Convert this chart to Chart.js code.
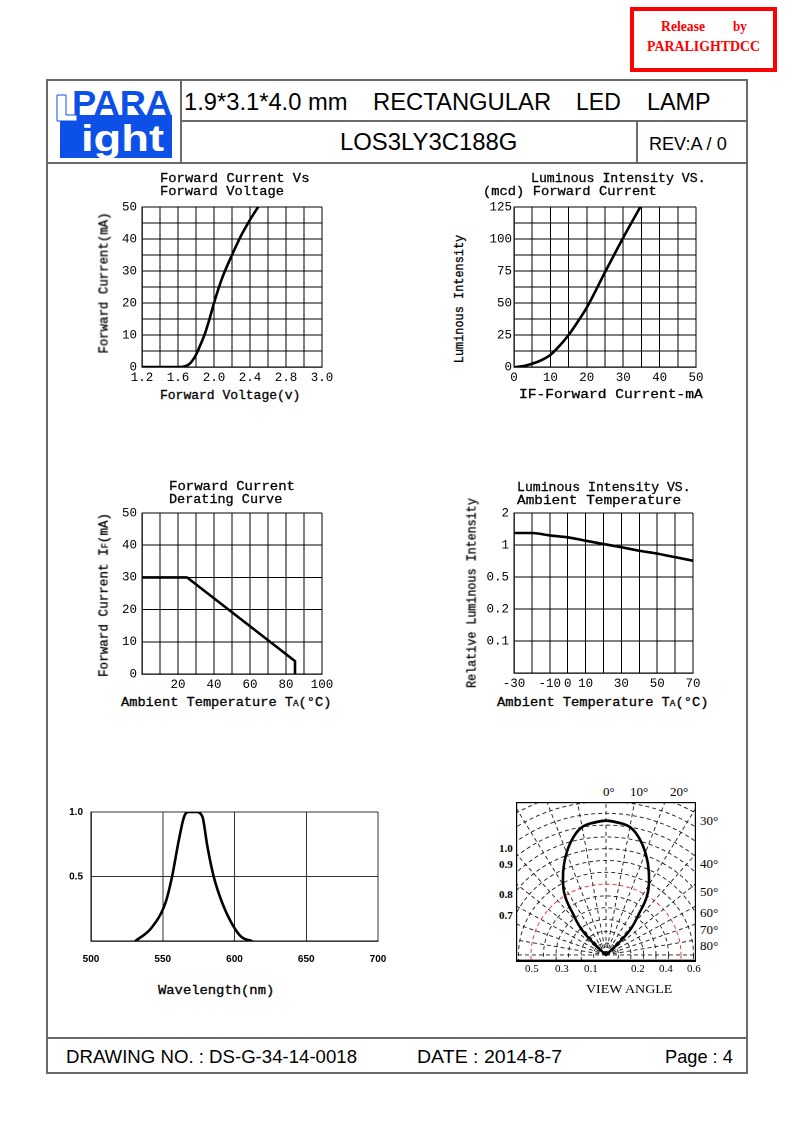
<!DOCTYPE html>
<html>
<head>
<meta charset="utf-8">
<script src="https://cdn.jsdelivr.net/npm/chart.js@4.4.1/dist/chart.umd.min.js"></script>
<style>
html, body { margin: 0; padding: 0; background: #fff; }
#page { position: relative; width: 793px; height: 1123px; overflow: hidden; background: #fff; }
.ln { position: absolute; background: #6a6a6a; }
.t { position: absolute; white-space: nowrap; line-height: 1; color: #000; }
.mono { font-family: "Liberation Mono", "DejaVu Sans Mono", monospace; -webkit-text-stroke: 0.3px #000; }
.sans { font-family: "Liberation Sans", Arial, sans-serif; }
.serif { font-family: "Liberation Serif", "Times New Roman", serif; }
.red { color: #ff0000; font-weight: bold; }
.sub { font-size: 68%; }
canvas { position: absolute; }
</style>
</head>
<body>
<div id="page"></div>
<script>
// ==================== DATA ====================

// Forward Current Vs Forward Voltage
const fvVoltage = [1.2, 1.6, 1.66, 1.72, 1.76, 1.80, 1.85, 1.90, 1.95, 2.0, 2.05, 2.1, 2.2, 2.3, 2.4, 2.49];
const fvCurrent = [0, 0, 0.1, 0.8, 2, 3.8, 7, 10.5, 15, 20, 24.5, 28.5, 35, 41, 46, 50];
const fvTickValues = [1.2, 1.6, 2.0, 2.4, 2.8, 3.2];
const fvTickLabels = ['1.2', '1.6', '2.0', '2.4', '2.8', '3.0'];
const fvCurrentTicks = [0, 10, 20, 30, 40, 50];

// Luminous Intensity VS. Forward Current
const liCurrent = [0.5, 3, 6, 8, 10, 12, 15, 18, 20, 25, 30, 34.7];
const liIntensity = [0, 1, 3.5, 6, 9.5, 15, 25, 37.5, 46.5, 74, 101, 125];
const liCurrentTicks = [0, 10, 20, 30, 40, 50];
const liIntensityTicks = [0, 25, 50, 75, 100, 125];

// Forward Current Derating Curve
const drTemp = [0, 25, 85, 85];
const drCurrent = [30, 30, 4, 0];
const drTempTicks = [20, 40, 60, 80, 100];
const drCurrentTicks = [0, 10, 20, 30, 40, 50];

// Luminous Intensity VS. Ambient Temperature (rows 0.1 / 0.2 / 0.5 / 1 / 2 are equally spaced)
const atTemp = [-30, -20, -10, 0, 10, 20, 30, 40, 50, 60, 70];
const atRelIntensity = [1.375, 1.375, 1.30, 1.24, 1.135, 1.03, 0.965, 0.91, 0.865, 0.81, 0.755];
const atRowValues = [0.1, 0.2, 0.5, 1, 2];
const atRowLabels = ['0.1', '0.2', '0.5', '1', '2'];
const atTempTicks = [-30, -10, 0, 10, 30, 50, 70];

// Spectral distribution
const spWavelength = [531, 542, 552, 556.5, 561, 564.5, 566.5, 568, 574, 576, 578, 581, 585.5, 592, 600, 605, 612];
const spRelative = [0, 0.1, 0.3, 0.5, 0.77, 0.95, 0.995, 1.0, 1.0, 0.99, 0.95, 0.74, 0.5, 0.28, 0.1, 0.03, 0];
const spWaveTicks = [500, 550, 600, 650, 700];
const spRelTicks = [0.5, 1.0];
const spRelLabels = ['0.5', '1.0'];

// Radiation pattern (angle from axis in degrees, radius in grid rings of 0.1)
const patternAngle = [0, 6.1, 9.7, 13.1, 18.0, 23.3, 28.4, 33.4, 37.0, 42.2, 45.8, 47];
const patternRadius = [1.138, 1.122, 1.103, 1.059, 0.965, 0.846, 0.724, 0.594, 0.442, 0.288, 0.100, 0];
const ringValues = [0.1, 0.2, 0.3, 0.4, 0.5, 0.6, 0.7, 0.8, 0.9, 1.0, 1.1, 1.2, 1.3, 1.4, 1.5, 1.6];
const halfRing = 0.6;
const radialAngles = [-90, -80, -70, -60, -50, -40, -30, -20, -10, 0, 10, 20, 30, 40, 50, 60, 70, 80, 90];
const viewTopLabels = ['0°', '10°', '20°'];
const viewRightLabels = ['30°', '40°', '50°', '60°', '70°', '80°'];
const viewLeftLabels = ['1.0', '0.9', '0.8', '0.7'];
const viewBottomLabels = ['0.5', '0.3', '0.1', '0.2', '0.4', '0.6'];

// ==================== PAGE ====================

const page = document.getElementById('page');

function line(x, y, w, h) {
    const d = document.createElement('div');
    d.className = 'ln';
    Object.assign(d.style, { left: x + 'px', top: y + 'px', width: w + 'px', height: h + 'px' });
    page.appendChild(d);
}

function mk(html, size, cls) {
    const d = document.createElement('div');
    d.className = 't ' + cls;
    d.innerHTML = html;
    d.style.fontSize = size + 'px';
    page.appendChild(d);
    return d;
}

// horizontal text, cy = vertical centre; w = width to fit (optional)
function htext(html, x, cy, size, cls, w, align) {
    const d = mk(html, size, cls);
    const nat = d.offsetWidth;
    const width = w || nat;
    let left = x;
    if (align === 'center') left = x - width / 2;
    if (align === 'right') left = x - width;
    d.style.left = left + 'px';
    d.style.top = cy + 'px';
    d.style.transformOrigin = 'left center';
    d.style.transform = 'translateY(-50%) scaleX(' + (width / nat) + ')';
    return d;
}

function vtext(html, cx, cy, size, cls, len) {
    const d = mk(html, size, cls);
    const k = len / d.offsetWidth;
    d.style.left = cx + 'px';
    d.style.top = cy + 'px';
    d.style.transform = 'translate(-50%,-50%) rotate(-90deg) scaleX(' + k + ')';
}

// frame
line(46, 79, 702, 2);
line(46, 79, 2, 995);
line(746, 79, 2, 995);
line(180, 79, 2, 84);
line(180, 120, 567, 2);
line(46, 162, 702, 2);
line(636, 120, 2, 43);
line(46, 1037, 702, 2);
line(46, 1072, 702, 2);

// release stamp
const stamp = document.createElement('div');
Object.assign(stamp.style, { position: 'absolute', left: '630px', top: '7px', width: '139px', height: '57px', border: '4px solid #ff0000' });
page.appendChild(stamp);
htext('Release', 661, 27, 14, 'serif red', 44);
htext('by', 733, 27, 14, 'serif red', 14);
htext('PARALIGHTDCC', 647, 47, 14, 'serif red', 113);

// logo
const logo = document.createElementNS('http://www.w3.org/2000/svg', 'svg');
logo.setAttribute('width', '134');
logo.setAttribute('height', '83');
logo.style.position = 'absolute';
logo.style.left = '46px';
logo.style.top = '80px';
logo.innerHTML =
    '<rect x="14" y="35" width="112" height="43" fill="#0d50e8"/>' +
    '<path d="M11 15 H20 V35 H31 V41 H11 Z" fill="#fff" stroke="#0d50e8" stroke-width="1"/>' +
    '<text x="26" y="35" font-family="Liberation Sans" font-weight="bold" font-size="35" fill="#0d50e8" textLength="100" lengthAdjust="spacingAndGlyphs">PARA</text>' +
    '<text x="35" y="71" font-family="Liberation Sans" font-weight="bold" font-size="36" fill="#fff" textLength="83" lengthAdjust="spacingAndGlyphs">ight</text>';
page.appendChild(logo);

// header texts
htext('1.9*3.1*4.0 mm', 184, 102, 23, 'sans', 164);
htext('RECTANGULAR', 373, 102, 23, 'sans', 178);
htext('LED', 576, 102, 23, 'sans', 45);
htext('LAMP', 647, 102, 23, 'sans', 64);
htext('LOS3LY3C188G', 340, 142, 24, 'sans', 177);
htext('REV:A / 0', 649, 143, 19, 'sans', 78);

// footer texts
htext('DRAWING NO. : DS-G-34-14-0018', 66, 1056, 19, 'sans', 291);
htext('DATE : 2014-8-7', 417, 1056, 19, 'sans', 145);
htext('Page : 4', 665, 1056, 19, 'sans', 68);

// ==================== CHARTS ====================

const monoTick = { family: 'Liberation Mono', size: 12.5 };
const sansTick = { family: 'Liberation Sans', size: 10, weight: 'bold' };

function gridValues(min, max, step) {
    const out = [];
    for (let v = min; v <= max + step / 1000; v += step) out.push(+v.toFixed(4));
    return out;
}

function labelFn(values, labels) {
    return v => {
        const i = values.findIndex(t => Math.abs(t - v) < 1e-6);
        return i < 0 ? '' : (labels ? labels[i] : String(values[i]));
    };
}

function points(xs, ys) {
    return xs.map((x, i) => ({ x: x, y: ys[i] }));
}

function plotChart(o) {
    // generous top/right padding so tick-label overflow never shrinks the plot area
    const yw = o.yw, xh = o.xh, pt = 22, pr = 30;
    const [L, T, W, H] = o.box;
    const cv = document.createElement('canvas');
    cv.width = W + yw + pr;
    cv.height = H + pt + xh;
    cv.style.left = (L - yw) + 'px';
    cv.style.top = (T - pt) + 'px';
    page.appendChild(cv);
    const scale = a => ({
        type: 'linear', min: a.min, max: a.max,
        afterBuildTicks: s => { s.ticks = gridValues(a.min, a.max, a.step).map(v => ({ value: v })); },
        afterFit: s => { if (s.isHorizontal()) s.height = xh; else s.width = yw; },
        ticks: { autoSkip: false, maxRotation: 0, padding: a.pad, color: '#000', font: o.font, callback: labelFn(a.tv, a.tl) },
        grid: { color: o.gridColor || '#000', lineWidth: 1, drawTicks: false },
        border: { display: true, color: '#000', width: 1.3 }
    });
    return new Chart(cv, {
        type: 'scatter',
        data: { datasets: [{ data: o.data, showLine: true, borderColor: '#000', borderWidth: 2.6, pointRadius: 0,
            tension: o.smooth ? 0.4 : 0, cubicInterpolationMode: o.smooth ? 'monotone' : 'default',
            borderCapStyle: 'round', borderJoinStyle: 'round' }] },
        options: {
            responsive: false, animation: false, devicePixelRatio: 2,
            layout: { padding: { top: pt, right: pr, left: 0, bottom: 0 } },
            plugins: { legend: { display: false }, tooltip: { enabled: false } },
            scales: { x: scale(o.x), y: scale(o.y) }
        }
    });
}

// 1. Forward current vs forward voltage
plotChart({
    box: [142, 207, 180, 160], yw: 40, xh: 20, font: monoTick, smooth: true,
    data: points(fvVoltage, fvCurrent),
    x: { min: 1.2, max: 3.2, step: 0.2, pad: 3, tv: fvTickValues, tl: fvTickLabels },
    y: { min: 0, max: 50, step: 5, pad: 5, tv: fvCurrentTicks }
});
htext('Forward Current Vs', 160, 178, 13, 'mono', 149);
htext('Forward Voltage', 160, 191, 13, 'mono', 124);
vtext('Forward Current(mA)', 104, 283, 13, 'mono', 141);
htext('Forward Voltage(v)', 160, 395, 13, 'mono', 140);

// 2. Luminous intensity vs forward current
plotChart({
    box: [514, 207, 182, 160], yw: 40, xh: 20, font: monoTick, smooth: true,
    data: points(liCurrent, liIntensity),
    x: { min: 0, max: 50, step: 5, pad: 3, tv: liCurrentTicks },
    y: { min: 0, max: 125, step: 12.5, pad: 2, tv: liIntensityTicks }
});
htext('Luminous Intensity VS.', 531, 178, 13, 'mono', 175);
htext('(mcd) Forward Current', 483, 191, 13, 'mono', 174);
vtext('Luminous Intensity', 459, 299, 13, 'mono', 128);
htext('IF-Forward Current-mA', 519, 394, 13, 'mono', 184);

// 3. Derating curve
plotChart({
    box: [142, 513, 180, 161], yw: 40, xh: 20, font: monoTick, smooth: false,
    data: points(drTemp, drCurrent),
    x: { min: 0, max: 100, step: 10, pad: 3, tv: drTempTicks },
    y: { min: 0, max: 50, step: 10, pad: 5, tv: drCurrentTicks }
});
htext('Forward Current', 169, 486, 13, 'mono', 126);
htext('Derating Curve', 169, 499, 13, 'mono', 113);
vtext('Forward Current I<span class="sub">F</span>(mA)', 104, 595, 13, 'mono', 164);
htext('Ambient Temperature T<span class="sub">A</span>(°C)', 121, 702, 13, 'mono', 210);

// 4. Relative luminous intensity vs ambient temperature
function rowPos(v) {
    for (let i = 0; i < atRowValues.length - 1; i++) {
        const a = atRowValues[i], b = atRowValues[i + 1];
        if (v <= b) return i + 1 + (v - a) / (b - a);
    }
    return atRowValues.length;
}
plotChart({
    box: [514, 513, 179, 160], yw: 46, xh: 20, font: monoTick, smooth: true,
    data: points(atTemp, atRelIntensity.map(rowPos)),
    x: { min: -30, max: 70, step: 10, pad: 3, tv: atTempTicks },
    y: { min: 0, max: 5, step: 1, pad: 5, tv: atRowValues.map((v, i) => i + 1), tl: atRowLabels }
});
htext('Luminous Intensity VS.', 517, 487, 13, 'mono', 174);
htext('Ambient Temperature', 517, 500, 13, 'mono', 164);
vtext('Relative Luminous Intensity', 472, 593, 13, 'mono', 190);
htext('Ambient Temperature T<span class="sub">A</span>(°C)', 497, 702, 13, 'mono', 211);

// 5. Spectral distribution
plotChart({
    box: [91, 812, 287, 129], yw: 40, xh: 30, font: sansTick, smooth: true, gridColor: '#333',
    data: points(spWavelength, spRelative),
    x: { min: 500, max: 700, step: 50, pad: 12, tv: spWaveTicks },
    y: { min: 0, max: 1, step: 0.5, pad: 8, tv: spRelTicks, tl: spRelLabels }
});
htext('Wavelength(nm)', 158, 990, 13, 'mono', 116);

// 6. Radiation pattern
const polarGrid = {
    id: 'polarGrid',
    beforeDatasetsDraw(chart) {
        const { ctx, chartArea: a, scales: { x, y } } = chart;
        const ox = x.getPixelForValue(0), oy = y.getPixelForValue(0);
        ctx.save();
        ctx.beginPath();
        ctx.rect(a.left, a.top, a.right - a.left, a.bottom - a.top);
        ctx.clip();
        ctx.lineWidth = 0.9;
        ctx.setLineDash([4, 3]);
        ringValues.forEach(r => {
            ctx.strokeStyle = r === halfRing ? '#ee2a2a' : '#1a1a1a';
            ctx.beginPath();
            ctx.ellipse(ox, oy, x.getPixelForValue(r) - ox, oy - y.getPixelForValue(r), 0, 0, Math.PI * 2);
            ctx.stroke();
        });
        ctx.strokeStyle = '#1a1a1a';
        radialAngles.forEach(deg => {
            const t = deg * Math.PI / 180;
            ctx.beginPath();
            ctx.moveTo(ox, oy);
            ctx.lineTo(x.getPixelForValue(2 * Math.sin(t)), y.getPixelForValue(2 * Math.cos(t)));
            ctx.stroke();
        });
        ctx.restore();
    },
    afterDraw(chart) {
        const { ctx, chartArea: a } = chart;
        ctx.save();
        ctx.strokeStyle = '#000';
        ctx.lineWidth = 1.2;
        ctx.strokeRect(a.left + 0.6, a.top + 0.6, a.right - a.left - 1.2, a.bottom - a.top - 1.2);
        ctx.lineWidth = 2.4;
        ctx.beginPath();
        ctx.moveTo(a.left, a.bottom - 1.2);
        ctx.lineTo(a.right, a.bottom - 1.2);
        ctx.stroke();
        ctx.restore();
    }
};

function polarPoint(deg, r) {
    const t = deg * Math.PI / 180;
    return { x: r * Math.sin(t), y: r * Math.cos(t) };
}
// left and right halves drawn separately so the lobe keeps its point at the origin
const lobeLeft = [], lobeRight = [];
for (let i = patternAngle.length - 1; i >= 0; i--) lobeLeft.push(polarPoint(-patternAngle[i], patternRadius[i]));
lobeLeft.push(polarPoint(patternAngle[1], patternRadius[1]));
lobeRight.push(polarPoint(-patternAngle[1], patternRadius[1]));
for (let i = 0; i < patternAngle.length; i++) lobeRight.push(polarPoint(patternAngle[i], patternRadius[i]));

const pcv = document.createElement('canvas');
pcv.width = 180;
pcv.height = 160;
pcv.style.left = '516px';
pcv.style.top = '802px';
page.appendChild(pcv);
const lobeStyle = { showLine: true, borderColor: '#000', borderWidth: 2.6, pointRadius: 0, tension: 0.4, borderCapStyle: 'round' };
new Chart(pcv, {
    type: 'scatter',
    data: { datasets: [{ data: lobeLeft, ...lobeStyle }, { data: lobeRight, ...lobeStyle }] },
    options: {
        responsive: false, animation: false, devicePixelRatio: 2,
        layout: { padding: 0 },
        plugins: { legend: { display: false }, tooltip: { enabled: false } },
        scales: {
            x: { type: 'linear', min: -0.72, max: 0.72, display: false },
            y: { type: 'linear', min: -0.06, max: 1.296, display: false }
        }
    },
    plugins: [polarGrid]
});

// radiation pattern labels
[609, 639, 679].forEach((cx, i) => htext(viewTopLabels[i], cx, 791, 13, 'serif', 0, 'center'));
[820, 863, 891, 912, 929, 945].forEach((cy, i) => htext(viewRightLabels[i], 700, cy, 13, 'serif'));
[848, 864, 894, 915].forEach((cy, i) => htext('<b>' + viewLeftLabels[i] + '</b>', 513, cy, 11, 'serif', 0, 'right'));
[532, 562, 591, 638, 666, 694].forEach((cx, i) => htext(viewBottomLabels[i], cx, 968, 11, 'serif', 0, 'center'));
htext('VIEW ANGLE', 629, 988, 13, 'serif', 86, 'center');
</script>
</body>
</html>
